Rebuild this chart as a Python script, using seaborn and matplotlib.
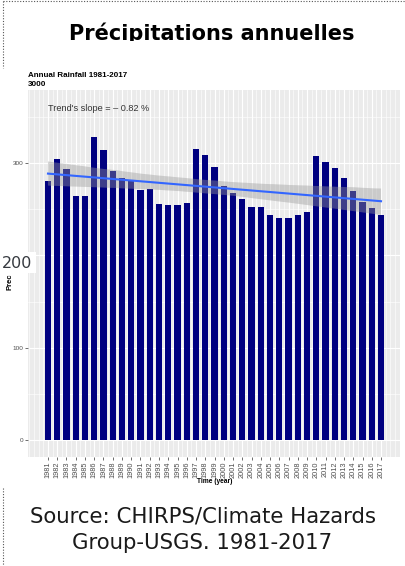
import matplotlib
matplotlib.use("Agg")
import matplotlib.pyplot as plt
import pandas as pd
import seaborn as sns
from matplotlib.lines import Line2D
from matplotlib.patches import Rectangle
from matplotlib.ticker import MultipleLocator
from matplotlib.transforms import Bbox, TransformedBbox

# ---- data -------------------------------------------------------------
years = list(range(1981, 2018))
rainfall = [280, 304, 293, 264, 264, 328, 314, 291, 284, 280,
            271, 272, 256, 255, 255, 257, 315, 309, 296, 275,
            267, 261, 252, 252, 244, 241, 241, 244, 247, 308,
            301, 295, 284, 270, 258, 251, 244]
y_ticks = [0, 100, 200, 300]
highlighted_tick = 200
trend_slope_pct = -0.82

page_title = "Précipitations annuelles"
chart_title = "Annual Rainfall 1981-2017\n3000"
x_title = "Time (year)"
y_title = "Prec"
source_lines = ["Source: CHIRPS/Climate Hazards", "Group-USGS. 1981-2017"]

df = pd.DataFrame({"year": years, "rain": rainfall})

# ---- figure in pixel units ------------------------------------------
W, H = 405, 566
fig = plt.figure(figsize=(W / 100, H / 100), dpi=100)
fig.patch.set_facecolor("white")


def fx(px):
    return px / W


def fy(py):
    return 1 - py / H


CHART_FONT = "Liberation Sans"

ax = fig.add_axes([fx(28), fy(457), fx(400) - fx(28), fy(90) - fy(457)])
ax.set_facecolor("#EBEBEB")
ax.set_axisbelow(True)

sns.barplot(data=df, x="year", y="rain", native_scale=True, width=0.66,
            color="#000080", saturation=1, errorbar=None, ax=ax)

sns.regplot(data=df, x="year", y="rain", scatter=False, ci=95, n_boot=2000,
            seed=3, truncate=True, color="#3366FF",
            line_kws=dict(lw=1.5), ax=ax)
band = ax.collections[-1]
band.set_facecolor("#999999")
band.set_alpha(0.4)

ax.set_xlim(1978.84, 2019.05)
ax.set_ylim(-18.4, 379.1)

ax.set_xticks(years)
ax.set_xticklabels([str(y) for y in years], rotation=90, fontsize=5.3,
                   color="#4D4D4D", family=CHART_FONT)
ax.xaxis.set_minor_locator(MultipleLocator(0.5))
ax.set_yticks(y_ticks)
# the highlighted tick gets its own enlarged label further down
ax.set_yticklabels(["" if v == highlighted_tick else str(v) for v in y_ticks],
                   fontsize=4.6, color="#4D4D4D", family=CHART_FONT)
ax.yaxis.set_minor_locator(MultipleLocator(50))

ax.grid(which="major", color="white", lw=0.8)
ax.grid(which="minor", color="white", lw=0.4)
ax.tick_params(which="minor", length=0)
ax.tick_params(which="major", length=2, width=0.5, color="#333333", pad=1)
for s in ax.spines.values():
    s.set_visible(False)
ax.set_xlabel("")
ax.set_ylabel("")

ax.text(1981, 359.6, f"Trend's slope = \u2013 {abs(trend_slope_pct):.2f} %",
        ha="left", va="center", fontsize=6.6, color="#333333", family=CHART_FONT)

# axis titles and chart title
fig.text(fx(215), fy(481.5), x_title, ha="center", va="center", fontsize=4.8,
         weight="bold", family=CHART_FONT, color="black")
fig.text(fx(10), fy(281.5), y_title, ha="center", va="center", rotation=90,
         fontsize=5.5, weight="bold", family=CHART_FONT, color="black")
fig.text(fx(28), fy(72), chart_title, ha="left", va="top", fontsize=5.8,
         weight="bold", family=CHART_FONT, color="black", linespacing=1.3)

# enlarged label for the highlighted tick on a white patch
fig.add_artist(Rectangle((fx(0), fy(273)), fx(36), fy(252) - fy(273),
                         transform=fig.transFigure, facecolor="white",
                         edgecolor="none", zorder=5))
fig.text(fx(17.5), fy(264), str(highlighted_tick), ha="center", va="center",
         fontsize=11.5, family="DejaVu Sans", color="#363a40", zorder=6)

# page heading, clipped at its lower edge
t = fig.text(fx(211.5), fy(39.5), page_title, ha="center", va="baseline",
             fontsize=15.0, weight="bold", family="DejaVu Sans", color="black")
t.set_clip_box(TransformedBbox(Bbox([[0, fy(41)], [1, 1]]), fig.transFigure))
t.set_clip_on(True)

# source note
fig.text(fx(202.5), fy(522), source_lines[0], ha="center", va="baseline",
         fontsize=15.3, family="DejaVu Sans", color="#1a1a1a")
fig.text(fx(202.5), fy(549), source_lines[1], ha="center", va="baseline",
         fontsize=15.3, family="DejaVu Sans", color="#1a1a1a")

# dotted frame fragments
dot = dict(transform=fig.transFigure, ls=(0, (1, 1.5)), lw=0.8, color="#555555")
fig.add_artist(Line2D([fx(3.5), fx(405)], [fy(1.2), fy(1.2)], **dot))
fig.add_artist(Line2D([fx(3.5), fx(3.5)], [fy(1.2), fy(68)], **dot))
fig.add_artist(Line2D([fx(3.5), fx(3.5)], [fy(488), fy(566)], **dot))

fig.savefig("out.png", dpi=100)
